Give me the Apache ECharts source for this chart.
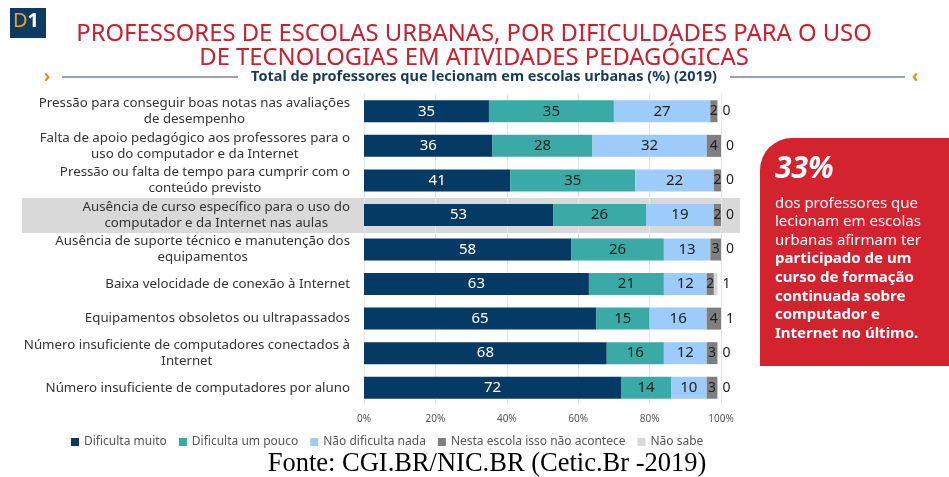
<!DOCTYPE html>
<html>
<head>
<meta charset="utf-8">
<script src="https://cdn.jsdelivr.net/npm/echarts@6/dist/echarts.min.js"></script>
<style>
  html, body { margin: 0; padding: 0; background: #fff; }
  #chart { width: 949px; height: 477px; }
</style>
</head>
<body>
<div id="chart"></div>
<script>
// categorias (topo para baixo)
var categories = [
  'Pressão para conseguir boas notas nas avaliações\nde desempenho',
  'Falta de apoio pedagógico aos professores para o\nuso do computador e da Internet',
  'Pressão ou falta de tempo para cumprir com o\nconteúdo previsto',
  'Ausência de curso específico para o uso do\ncomputador e da Internet nas aulas',
  'Ausência de suporte técnico e manutenção dos\nequipamentos',
  'Baixa velocidade de conexão à Internet',
  'Equipamentos obsoletos ou ultrapassados',
  'Número insuficiente de computadores conectados à\nInternet',
  'Número insuficiente de computadores por aluno'
];
var dificultaMuito  = [35, 36, 41, 53, 58, 63, 65, 68, 72];
var dificultaPouco  = [35, 28, 35, 26, 26, 21, 15, 16, 14];
var naoDificulta    = [27, 32, 22, 19, 13, 12, 16, 12, 10];
var naoAcontece     = [2, 4, 2, 2, 3, 2, 4, 3, 3];
var naoSabe         = [0, 0, 0, 0, 0, 1, 1, 0, 0];
var seriesNames = ['Dificulta muito', 'Dificulta um pouco', 'Não dificulta nada', 'Nesta escola isso não acontece', 'Não sabe'];
var xTicks = [0, 20, 40, 60, 80, 100];

var colors = ['#043a64', '#3aaaa6', '#9dcbfa', '#7f7f7f', '#d9d9d9'];
var labelColors = ['#ffffff', '#222222', '#222222', '#222222', '#222222'];
var font = 'Noto Sans';

var dataSets = [dificultaMuito, dificultaPouco, naoDificulta, naoAcontece, naoSabe];

var series = dataSets.map(function (d, i) {
  var s = {
    name: seriesNames[i],
    type: 'bar',
    stack: 'total',
    barWidth: 22,
    data: d,
    itemStyle: { color: colors[i] },
    label: {
      show: true,
      position: 'inside',
      color: labelColors[i],
      fontFamily: font,
      fontSize: 15
    }
  };
  if (i === 3) {
    s.label.fontSize = 14;
  }
  if (i === 4) {
    s.label.position = 'right';
    s.label.distance = 5;
    s.label.fontSize = 14;
  }
  return s;
});

var myChart = echarts.init(document.getElementById('chart'));
var option = {
  animation: false,
  backgroundColor: '#ffffff',
  grid: { left: 364, right: 228, top: 94, bottom: 72 },
  legend: {
    left: 66,
    top: 431,
    itemWidth: 8,
    itemHeight: 8,
    itemGap: 12,
    icon: 'rect',
    textStyle: { fontFamily: font, fontSize: 12, color: '#555' },
    data: seriesNames
  },
  xAxis: {
    type: 'value',
    min: 0,
    max: 100,
    interval: 20,
    axisLine: { show: false },
    axisTick: { show: false },
    splitLine: { lineStyle: { color: '#e6e6e6' } },
    axisLabel: {
      fontFamily: font,
      fontSize: 10,
      color: '#555',
      margin: 9,
      formatter: function (v) { return xTicks.indexOf(v) >= 0 ? v + '%' : ''; }
    }
  },
  yAxis: {
    type: 'category',
    inverse: true,
    data: categories,
    axisLine: { show: false },
    axisTick: { show: false },
    axisLabel: {
      margin: 14,
      fontFamily: font,
      fontSize: 13.3,
      color: '#333',
      lineHeight: 16,
      formatter: function (v) {
        return v.split('\n').map(function (l) { return '{c|' + l + '}'; }).join('\n');
      },
      rich: { c: { align: 'center', fontFamily: font, fontSize: 13.3, color: '#333', lineHeight: 16 } }
    }
  },
  graphic: [
    // faixa de destaque
    { type: 'rect', z: -1, shape: { x: 22, y: 198, width: 718, height: 35 }, style: { fill: '#d9d9d9' } },
    // selo D1
    { type: 'rect', shape: { x: 10, y: 8, width: 36, height: 30 }, style: { fill: '#0b3b60' } },
    { type: 'text', left: 13, top: 11, style: { text: '{d|D}{n|1}', rich: {
      d: { fill: '#f0a02a', fontFamily: font, fontSize: 20 },
      n: { fill: '#ffffff', fontFamily: font, fontSize: 20, fontWeight: 'bold' } } } },
    // titulo
    { type: 'text', x: 474, y: 46, style: {
      text: 'PROFESSORES DE ESCOLAS URBANAS, POR DIFICULDADES PARA O USO\nDE TECNOLOGIAS EM ATIVIDADES PEDAGÓGICAS',
      fill: '#c8202f', fontFamily: font, fontSize: 23.8, lineHeight: 24, align: 'center', verticalAlign: 'middle' } },
    // subtitulo com linhas
    { type: 'line', shape: { x1: 62, y1: 77, x2: 238, y2: 77 }, style: { stroke: '#9aa3ad', lineWidth: 2 } },
    { type: 'line', shape: { x1: 730, y1: 77, x2: 905, y2: 77 }, style: { stroke: '#9aa3ad', lineWidth: 2 } },
    { type: 'text', x: 484, y: 77, style: {
      text: 'Total de professores que lecionam em escolas urbanas (%) (2019)',
      fill: '#163a5c', fontFamily: font, fontSize: 14.5, fontWeight: 'bold', align: 'center', verticalAlign: 'middle' } },
    { type: 'text', x: 47, y: 77, style: { text: '›', fill: '#f08a1c', fontFamily: font, fontSize: 18, fontWeight: 'bold', align: 'center', verticalAlign: 'middle' } },
    { type: 'text', x: 915, y: 77, style: { text: '‹', fill: '#f08a1c', fontFamily: font, fontSize: 18, fontWeight: 'bold', align: 'center', verticalAlign: 'middle' } },
    // caixa vermelha
    { type: 'rect', shape: { x: 760, y: 138, width: 200, height: 228, r: [32, 0, 0, 0] }, style: { fill: '#d2232f' } },
    { type: 'text', left: 775, top: 154, style: { text: '33%', fill: '#fff', fontFamily: font, fontSize: 30, fontWeight: 'bold', fontStyle: 'italic' } },
    { type: 'text', left: 775, top: 194, style: {
      text: 'dos professores que\nlecionam em escolas\nurbanas afirmam ter\n{b|participado de um}\n{b|curso de formação}\n{b|continuada sobre}\n{b|computador e}\n{b|Internet no último.}',
      fill: '#fff', fontFamily: font, fontSize: 15, lineHeight: 18.6,
      rich: { b: { fill: '#fff', fontFamily: font, fontSize: 15, lineHeight: 18.6, fontWeight: 'bold' } } } },
    // fonte
    { type: 'text', x: 487, y: 464, style: {
      text: 'Fonte: CGI.BR/NIC.BR (Cetic.Br -2019)', fill: '#000', fontFamily: 'Liberation Serif', fontSize: 26.5,
      align: 'center', verticalAlign: 'middle' } }
  ],
  series: series
};
myChart.setOption(option);
</script>
</body>
</html>
